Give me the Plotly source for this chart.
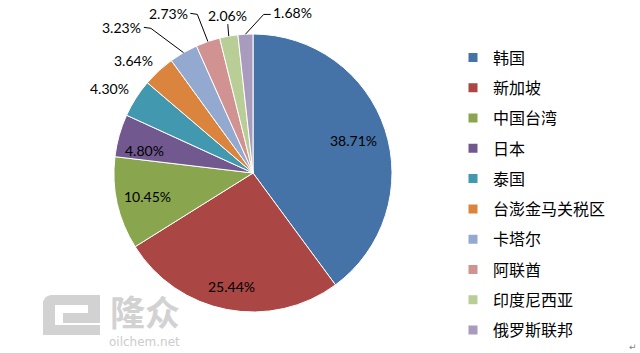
import math
import plotly.graph_objects as go

countries = ["韩国", "新加坡", "中国台湾", "日本", "泰国", "台澎金马关税区", "卡塔尔", "阿联酋", "印度尼西亚", "俄罗斯联邦"]
shares = [38.71, 25.44, 10.45, 4.80, 4.30, 3.64, 3.23, 2.73, 2.06, 1.68]
colors = ["#4572A7", "#AA4643", "#89A54E", "#71588F", "#4198AF",
          "#DB843D", "#93A9CF", "#D19392", "#B9CD96", "#A99BBD"]

W, H = 640, 353
CX, CY, R = 253, 173, 139  # pie centre / radius in pixels

# label placement style per slice: (radius factor, angle shift in deg, leader side)
label_style = [(0.76, 0, None), (0.83, 0, None), (0.78, 0, None), (0.80, -4, None),
               (1.20, -2, None), (1.18, -4, None), (1.41, -12, 'right'),
               (1.30, -9, 'right'), (1.15, 1, 'below'), (1.19, 17, 'left')]


def px(x):
    return x / W


def py(y):
    return 1 - y / H


fig = go.Figure()
fig.add_trace(go.Pie(
    labels=countries, values=shares, sort=False, direction="clockwise", rotation=0,
    marker=dict(colors=colors, line=dict(color="white", width=1)),
    textinfo="none", hoverinfo="label+percent", showlegend=False,
    domain=dict(x=[px(CX - R), px(CX + R)], y=[py(CY + R), py(CY - R)]),
))

# legend entries
for name, c in zip(countries, colors):
    fig.add_trace(go.Scatter(x=[None], y=[None], mode="markers", name=name, legendgroup=name,
                             marker=dict(symbol="square", size=9, color=c)))

total = sum(shares)
cum = 0.0
annotations = []
shapes = []
TW = 40  # approx text width px
for v, (rf, dth, side) in zip(shares, label_style):
    frac = v / total
    mid = (cum + frac / 2) * 2 * math.pi
    cum += frac
    ang = mid + math.radians(dth)
    lx = CX + rf * R * math.sin(ang)
    ly = CY - rf * R * math.cos(ang)
    annotations.append(dict(x=px(lx), y=py(ly), xref="paper", yref="paper",
                            text=f"{v:.2f}%", showarrow=False,
                            font=dict(family="Lato", size=14, color="black"),
                            xanchor="center", yanchor="middle"))
    if side:
        ex = CX + R * math.sin(mid)
        ey = CY - R * math.cos(mid)
        if side == 'right':
            ax, ay = lx + TW / 2 + 2, ly
            bx, by = ax + 7, ly + 1
        elif side == 'left':
            ax, ay = lx - TW / 2 - 2, ly + 2
            bx, by = ax - 7, ay
        else:
            ax, ay = lx, ly + 9
            bx, by = lx, ly + 10
        shapes.append(dict(type="path", xref="paper", yref="paper",
                           path=f"M{px(ax)},{py(ay)} L{px(bx)},{py(by)} L{px(ex)},{py(ey)}",
                           line=dict(color="black", width=1)))

# watermark logo
wm = "#d2d2d2"
for (x0, y0, x1, y1) in [(50, 295, 100, 305), (43, 301, 55, 335), (43, 325, 100, 335),
                         (63, 313, 100, 323), (88, 295, 100, 323)]:
    shapes.append(dict(type="rect", xref="paper", yref="paper", x0=px(x0), x1=px(x1),
                       y0=py(y1), y1=py(y0), fillcolor=wm, line=dict(width=0), layer="below"))
shapes.append(dict(type="path", xref="paper", yref="paper", layer="below", fillcolor=wm,
                   line=dict(width=0),
                   path=f"M{px(43)},{py(305)} Q{px(43)},{py(295)} {px(52)},{py(295)} "
                        f"L{px(55)},{py(295)} L{px(55)},{py(305)} Z"))
annotations.append(dict(x=px(145), y=py(310), xref="paper", yref="paper", text="<b>隆众</b>",
                        xanchor="center", yanchor="middle", showarrow=False,
                        font=dict(family="Noto Sans CJK SC", size=35, color=wm)))
annotations.append(dict(x=px(144), y=py(342), xref="paper", yref="paper", text="oilchem.net",
                        xanchor="center", yanchor="middle", showarrow=False,
                        font=dict(family="DejaVu Sans", size=12, color="#cccccc")))
annotations.append(dict(x=px(633), y=py(347), xref="paper", yref="paper", text="↵",
                        xanchor="center", yanchor="middle", showarrow=False,
                        font=dict(family="DejaVu Sans", size=9, color="#808080")))

fig.update_layout(
    width=W, height=H, margin=dict(l=0, r=0, t=0, b=0),
    paper_bgcolor="white", plot_bgcolor="white",
    xaxis=dict(visible=False), yaxis=dict(visible=False),
    legend=dict(x=px(453), y=py(40.5), xanchor="left", yanchor="top",
                font=dict(family="Noto Sans CJK SC", size=16, color="black"),
                tracegroupgap=6.5, bgcolor="rgba(0,0,0,0)"),
    annotations=annotations, shapes=shapes,
)

fig.write_html("out.html")
